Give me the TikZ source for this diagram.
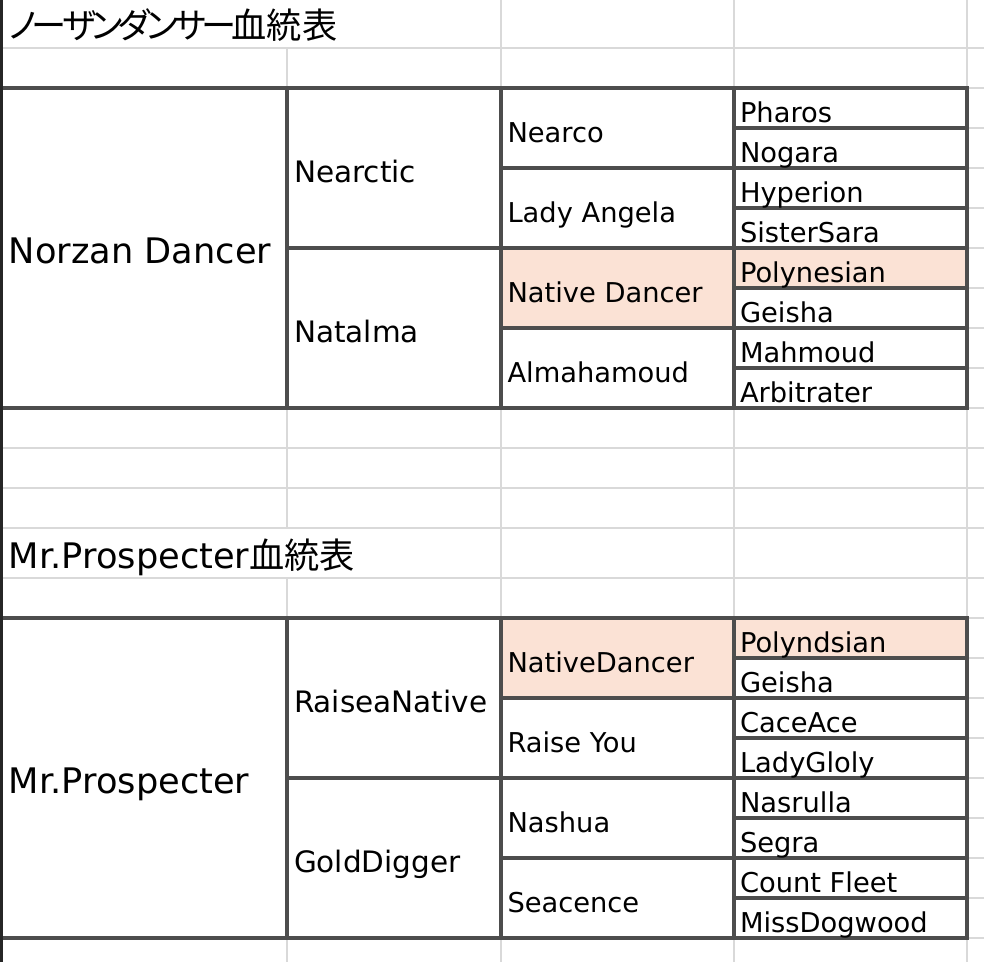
\documentclass[tikz,border=0pt]{standalone}
\usepackage{fontspec}
\setmainfont{DejaVu Sans}
\newfontfamily\cjk{Noto Sans CJK JP}
\newfontfamily\cjkkana[RawFeature=+palt]{Noto Sans CJK JP}
\newcommand\kn[1]{#1\kern-4.5pt}
\definecolor{gridgray}{HTML}{D9D9D9}
\definecolor{bordergray}{HTML}{4D4D4D}
\definecolor{edgedark}{HTML}{262626}
\definecolor{peach}{HTML}{FBE2D5}
\tikzset{
  gridline/.style={draw=gridgray, line width=2.6pt},
  cellbox/.style={draw=bordergray, line width=3.2pt},
  hicell/.style={fill=peach},
  txt/.style={anchor=base west, inner sep=0pt, outer sep=0pt, text=black},
  tsmall/.style={txt, font=\fontsize{27.3}{30}\selectfont},
  tmid/.style={txt, font=\fontsize{29.5}{32}\selectfont},
  tbig/.style={txt, font=\fontsize{35.2}{38}\selectfont},
  ttitle/.style={txt, font=\fontsize{35.2}{38}\selectfont}
}
\begin{document}
\begin{tikzpicture}[x=1pt,y=-1pt]
\useasboundingbox (0,0) rectangle (984,962);
\fill[white] (0,0) rectangle (984,962);
% gray grid: horizontal lines
\foreach \yy in {48,88,128,168,208,248,288,328,368,408,448,488,528,578,618,658,698,738,778,818,858,898,938}
  \draw[gridline] (3,\yy) -- (984,\yy);
% gray grid: vertical lines
\draw[gridline] (287,48) -- (287,88);
\draw[gridline] (287,408) -- (287,528);
\draw[gridline] (287,578) -- (287,618);
\draw[gridline] (287,938) -- (287,962);
\foreach \xx in {501,734}{
  \draw[gridline] (\xx,0) -- (\xx,88);
  \draw[gridline] (\xx,408) -- (\xx,618);
  \draw[gridline] (\xx,938) -- (\xx,962);
}
\draw[gridline] (967,0) -- (967,962);
% tables
\foreach \T in {88,618}{
  \fill[white] (1,\T) rectangle (967,\T+320);
}
\fill[hicell] (501,248) rectangle (734,328);
\fill[hicell] (734,248) rectangle (967,288);
\fill[hicell] (501,618) rectangle (734,698);
\fill[hicell] (734,618) rectangle (967,658);
\foreach \T in {88,618}{
  \draw[cellbox] (0,\T) rectangle (287,\T+320);
  \foreach \k in {0,1}
    \draw[cellbox] (287,\T+160*\k) rectangle (501,\T+160*\k+160);
  \foreach \k in {0,...,3}
    \draw[cellbox] (501,\T+80*\k) rectangle (734,\T+80*\k+80);
  \foreach \k in {0,...,7}
    \draw[cellbox] (734,\T+40*\k) rectangle (967,\T+40*\k+40);
}
% left window edge
\fill[edgedark] (0,0) rectangle (3,962);
% titles
\node[ttitle] (title1) at (9,38) {{\cjkkana \kn{ノ}\kn{ー}\kn{ザ}\kn{ン}\kn{ダ}\kn{ン}\kn{サ}\kn{ー}}{\cjk 血統表}};
\node[ttitle] (title2) at (9,568) {Mr.Prospecter{\cjk 血統表}};
% table 1
\node[tbig] (a1) at (9,263) {Norzan Dancer};
\node[tmid] (a2) at (294,182) {Nearctic};
\node[tmid] (a3) at (294,342) {Natalma};
\node[tsmall] (a4) at (507.5,142) {Nearco};
\node[tsmall] (a5) at (507.5,222) {Lady Angela};
\node[tsmall] (a6) at (507.5,302) {Native Dancer};
\node[tsmall] (a7) at (507.5,382) {Almahamoud};
\node[tsmall] (a8) at (740,122) {Pharos};
\node[tsmall] (a9) at (740,162) {Nogara};
\node[tsmall] (a10) at (740,202) {Hyperion};
\node[tsmall] (a11) at (740,242) {SisterSara};
\node[tsmall] (a12) at (740,282) {Polynesian};
\node[tsmall] (a13) at (740,322) {Geisha};
\node[tsmall] (a14) at (740,362) {Mahmoud};
\node[tsmall] (a15) at (740,402) {Arbitrater};
% table 2
\node[tbig] (b1) at (9,793) {Mr.Prospecter};
\node[tmid] (b2) at (294,712) {RaiseaNative};
\node[tmid] (b3) at (294,872) {GoldDigger};
\node[tsmall] (b4) at (507.5,672) {NativeDancer};
\node[tsmall] (b5) at (507.5,752) {Raise You};
\node[tsmall] (b6) at (507.5,832) {Nashua};
\node[tsmall] (b7) at (507.5,912) {Seacence};
\node[tsmall] (b8) at (740,652) {Polyndsian};
\node[tsmall] (b9) at (740,692) {Geisha};
\node[tsmall] (b10) at (740,732) {CaceAce};
\node[tsmall] (b11) at (740,772) {LadyGloly};
\node[tsmall] (b12) at (740,812) {Nasrulla};
\node[tsmall] (b13) at (740,852) {Segra};
\node[tsmall] (b14) at (740,892) {Count Fleet};
\node[tsmall] (b15) at (740,932) {MissDogwood};
\end{tikzpicture}
\end{document}
